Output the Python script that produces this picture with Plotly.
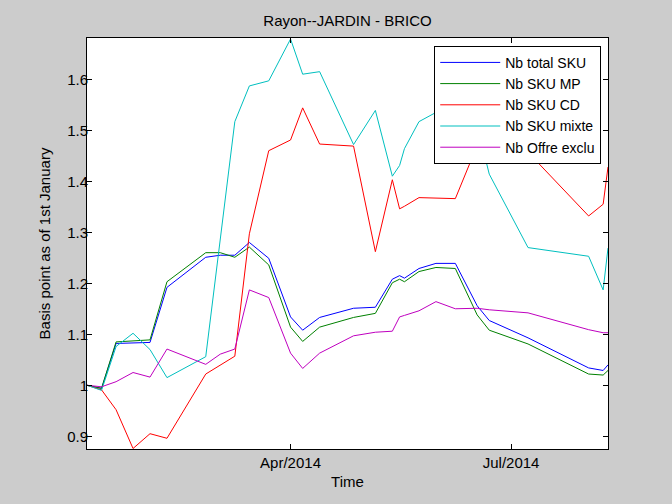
import plotly.graph_objects as go

# weekly-ish snapshot dates
dates = ['2014-01-07', '2014-01-13', '2014-01-19', '2014-01-26', '2014-02-02',
         '2014-02-09', '2014-02-25', '2014-03-03', '2014-03-09', '2014-03-15',
         '2014-03-23', '2014-04-01', '2014-04-06', '2014-04-13', '2014-04-27',
         '2014-05-06', '2014-05-13', '2014-05-16', '2014-05-18', '2014-05-24',
         '2014-05-31', '2014-06-08', '2014-06-17', '2014-06-22', '2014-07-08',
         '2014-08-02', '2014-08-08', '2014-08-10']

nb_total_sku = [1.000, 0.994, 1.082, 1.083, 1.084, 1.192, 1.251, 1.255, 1.255, 1.280,
                1.249, 1.134, 1.108, 1.133, 1.151, 1.153, 1.208, 1.215, 1.210, 1.229,
                1.239, 1.239, 1.156, 1.127, 1.093, 1.034, 1.029, 1.040]

nb_sku_mp = [1.000, 0.994, 1.085, 1.087, 1.089, 1.203, 1.260, 1.260, 1.251, 1.271,
             1.236, 1.114, 1.086, 1.114, 1.133, 1.141, 1.201, 1.208, 1.203, 1.223,
             1.231, 1.229, 1.138, 1.108, 1.081, 1.022, 1.020, 1.029]

nb_sku_cd = [1.000, 0.991, 0.952, 0.876, 0.905, 0.896, 1.022, 1.040, 1.057, 1.297,
             1.460, 1.481, 1.544, 1.473, 1.469, 1.262, 1.403, 1.346, 1.351, 1.368,
             1.367, 1.366, 1.470, 1.530, 1.457, 1.332, 1.355, 1.428]

nb_sku_mixte = [1.000, 0.990, 1.076, 1.102, 1.070, 1.015, 1.056, 1.290, 1.517, 1.587,
                1.597, 1.679, 1.610, 1.615, 1.472, 1.539, 1.410, 1.431, 1.464, 1.517,
                1.535, 1.550, 1.510, 1.414, 1.270, 1.253, 1.187, 1.269]

nb_offre_exclu = [1.000, 0.997, 1.007, 1.025, 1.016, 1.071, 1.041, 1.061, 1.071, 1.187,
                  1.172, 1.063, 1.033, 1.063, 1.097, 1.104, 1.106, 1.134, 1.137, 1.146,
                  1.164, 1.150, 1.151, 1.148, 1.142, 1.109, 1.103, 1.103]

y_ticks = [0.9, 1.0, 1.1, 1.2, 1.3, 1.4, 1.5, 1.6]
y_labels = ['0.9', '1', '1.1', '1.2', '1.3', '1.4', '1.5', '1.6']
x_ticks = ['2014-04-01', '2014-07-01']
x_labels = ['Apr/2014', 'Jul/2014']

font = 'Liberation Sans, Arial, Helvetica, sans-serif'

fig = go.Figure()
fig.add_trace(go.Scatter(x=dates, y=nb_total_sku, name='Nb total SKU', mode='lines',
                         line=dict(color='#0000ff', width=1)))
fig.add_trace(go.Scatter(x=dates, y=nb_sku_mp, name='Nb SKU MP', mode='lines',
                         line=dict(color='#008000', width=1)))
fig.add_trace(go.Scatter(x=dates, y=nb_sku_cd, name='Nb SKU CD', mode='lines',
                         line=dict(color='#ff0000', width=1)))
fig.add_trace(go.Scatter(x=dates, y=nb_sku_mixte, name='Nb SKU mixte', mode='lines',
                         line=dict(color='#00bfbf', width=1)))
fig.add_trace(go.Scatter(x=dates, y=nb_offre_exclu, name='Nb Offre exclu', mode='lines',
                         line=dict(color='#bf00bf', width=1)))

fig.update_layout(
    width=672, height=504, autosize=False,
    paper_bgcolor='#cccccc', plot_bgcolor='white',
    font=dict(family=font, size=15, color='black'),
    margin=dict(l=87, r=64, t=38, b=55, pad=0),
    title=dict(text='Rayon--JARDIN - BRICO', x=0.5, xref='paper', xanchor='center',
               y=0.958, yref='container', yanchor='middle', font=dict(size=15)),
    legend=dict(x=0.987, y=0.981, xanchor='right', yanchor='top',
                bgcolor='white', bordercolor='black', borderwidth=1,
                itemwidth=60, font=dict(size=14)),
)

fig.update_xaxes(range=[dates[0], dates[-1]], tickvals=x_ticks, ticktext=x_labels,
                 ticks='inside', ticklen=5, tickcolor='black', showgrid=False,
                 showline=True, linecolor='black', linewidth=1, mirror='ticks',
                 zeroline=False, title=dict(text='Time', standoff=6, font=dict(size=15)))
fig.update_yaxes(range=[0.875, 1.681], tickvals=y_ticks, ticktext=y_labels,
                 ticks='inside', ticklen=5, tickcolor='black', showgrid=False,
                 showline=True, linecolor='black', linewidth=1, mirror='ticks',
                 zeroline=False, ticklabelstandoff=-5,
                 title=dict(text='Basis point as of 1st January', standoff=12, font=dict(size=15)))

# page has a default 8px body margin; drop it so the figure sits at the corner
fig.write_html('out.html', config={'displayModeBar': False},
               post_script="document.body.style.margin='0';")
